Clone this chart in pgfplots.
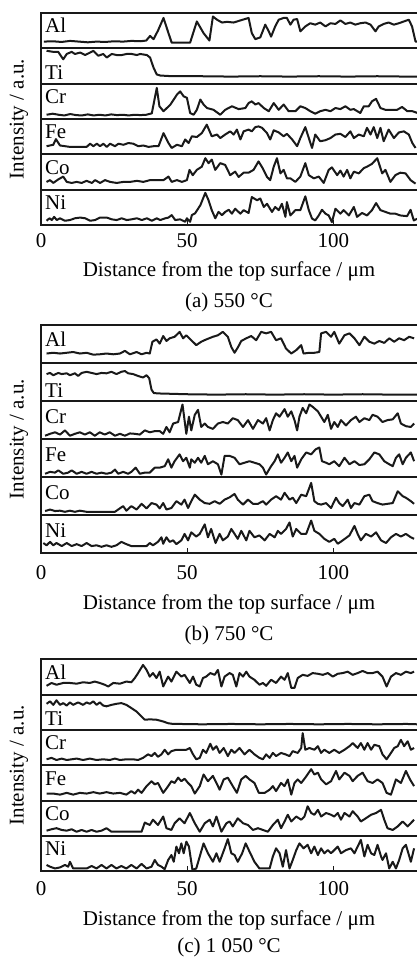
\documentclass[border=0pt]{standalone}
\usepackage{pgfplots}
\pgfplotsset{compat=1.18}
\usepackage{fontspec}
\setmainfont{Liberation Serif}
\newcommand\bigf{\fontsize{21}{25}\selectfont}
\pgfplotsset{
  panel/.style={scale only axis, width=376pt, xmin=0, xmax=128.6, ymin=0, ymax=6,
    ytick=\empty, xtick={0,50,100}, tick align=inside, xtick pos=bottom,
    major tick length=5pt, tick style={line width=1.2pt, black!90},
    axis line style={draw=none}, clip mode=individual,
    /pgf/number format/assume math mode=true,
    ticklabel style={font=\bigf}, label style={font=\bigf},
    ylabel={Intensity / a.u.},
    ylabel style={at={(axis description cs:-0.0585,0.5)}, anchor=center},
    xlabel={Distance from the top surface / μm},
    anchor=north west},
  trace/.style={black!90, line width=2pt, line join=round, mark=none},
}
\tikzset{frame/.style={black!90, line width=1.8pt},
  lab/.style={font=\bigf, inner sep=0pt, anchor=base west}}
\newcommand\frames{%
  \draw[frame] (axis cs:128.6,6) -- (axis cs:0,6) -- (axis cs:0,0) -- (axis cs:128.6,0);
  \draw[frame] (axis cs:0,1) -- (axis cs:128.6,1);
  \draw[frame] (axis cs:0,2) -- (axis cs:128.6,2);
  \draw[frame] (axis cs:0,3) -- (axis cs:128.6,3);
  \draw[frame] (axis cs:0,4) -- (axis cs:128.6,4);
  \draw[frame] (axis cs:0,5) -- (axis cs:128.6,5);}
\newcommand\striplabels[1]{%
  \node[lab, xshift=4pt, yshift=-#1] at (axis cs:0,6) {Al};
  \node[lab, xshift=4pt, yshift=4pt] at (axis cs:0,4) {Ti};
  \node[lab, xshift=4pt, yshift=-#1] at (axis cs:0,4) {Cr};
  \node[lab, xshift=4pt, yshift=-#1] at (axis cs:0,3) {Fe};
  \node[lab, xshift=4pt, yshift=-#1] at (axis cs:0,2) {Co};
  \node[lab, xshift=4pt, yshift=-#1] at (axis cs:0,1) {Ni};}
\begin{document}
\begin{tikzpicture}
\useasboundingbox (0,0) rectangle (417pt,958pt);
% ---------------- (a) 550 C
\begin{axis}[panel, at={(41pt,945pt)}, height=212pt,
  xticklabel style={anchor=base, yshift=-23pt},
  xlabel style={at={(axis description cs:0.5,0)}, anchor=base, yshift=-52pt}]
\addplot[trace] table[row sep=\\, y expr=\thisrow{f}+5] {x f\\
1 .19\\ 4 .2\\ 7 .18\\ 10 .21\\ 13 .19\\ 16 .17\\ 19 .19\\ 22 .18\\ 25 .2\\ 28 .19\\ 31 .21\\ 34 .2\\ 36 .22\\ 37.3 .35\\ 38.5 .26\\ 40 .5\\ 41.9 .86\\ 43.6 .43\\ 44.7 .16\\ 48 .16\\ 51 .16\\ 53.3 .76\\ 55.6 .43\\ 57.6 .22\\ 58.8 .9\\ 60.2 .81\\ 61.9 .73\\ 63.6 .75\\ 65.9 .73\\ 68.2 .79\\ 71 .86\\ 72.1 .43\\ 73.3 .26\\ 75 .31\\ 76.7 .67\\ 77.9 .48\\ 78.7 .33\\ 80.1 .62\\ 81.3 .81\\ 83 .86\\ 84.1 .86\\ 85.3 .67\\ 86.4 .81\\ 87.6 .83\\ 88.7 .48\\ 90.4 .62\\ 92.1 .71\\ 93.8 .67\\ 95.5 .73\\ 97.3 .62\\ 99 .71\\ 100.7 .69\\ 102.4 .79\\ 104.1 .69\\ 105.8 .73\\ 107.5 .67\\ 109.2 .71\\ 111 .73\\ 112.7 .67\\ 114.4 .48\\ 115.5 .62\\ 117.2 .69\\ 118.9 .73\\ 120.7 .67\\ 122.4 .71\\ 124.1 .76\\ 125.8 .81\\ 126.9 .62\\ 128.1 .19\\ 129 .19\\
};
\addplot[trace] table[row sep=\\, y expr=\thisrow{f}+4] {x f\\
1.9 .93\\ 4.2 .9\\ 5.9 .9\\ 7.6 .69\\ 8.8 .84\\ 10.5 .9\\ 11.6 .84\\ 13.4 .88\\ 15.1 .81\\ 16.8 .88\\ 17.9 .93\\ 19.6 .79\\ 21.3 .84\\ 22.5 .74\\ 24.2 .84\\ 25.9 .81\\ 27.6 .81\\ 29.3 .84\\ 31 .84\\ 32.8 .81\\ 33.9 .84\\ 36.2 .81\\ 37.3 .74\\ 38.5 .45\\ 39.6 .26\\ 40.8 .23\\ 45 .21\\ 55 .21\\ 65 .2\\ 75 .21\\ 85 .2\\ 95 .21\\ 105 .2\\ 115 .21\\ 125 .2\\ 129 .2\\
};
\addplot[trace] table[row sep=\\, y expr=\thisrow{f}+3] {x f\\
1.9 .12\\ 4 .15\\ 6 .12\\ 8 .1\\ 10 .14\\ 12 .11\\ 14 .1\\ 16 .13\\ 18 .1\\ 20 .12\\ 22 .1\\ 24 .13\\ 26 .11\\ 28 .12\\ 30 .1\\ 32 .12\\ 34 .11\\ 36 .12\\ 37.9 .16\\ 39.6 .88\\ 40.5 .36\\ 41.9 .22\\ 44.2 .4\\ 46.5 .69\\ 47.6 .78\\ 48.8 .64\\ 49.9 .6\\ 51 .17\\ 52.2 .12\\ 53.3 .26\\ 54.5 .55\\ 55.6 .41\\ 56.8 .31\\ 59 .26\\ 61.3 .12\\ 63 .26\\ 65.3 .36\\ 67.6 .28\\ 69.9 .31\\ 71 .45\\ 72.1 .5\\ 73.3 .41\\ 74.4 .45\\ 76.2 .31\\ 77.9 .22\\ 79.6 .45\\ 81.3 .26\\ 83 .41\\ 84.7 .22\\ 87 .22\\ 88.7 .36\\ 90.4 .31\\ 92.1 .22\\ 93.8 .15\\ 95.5 .22\\ 97.3 .26\\ 99 .22\\ 100.7 .31\\ 102.4 .28\\ 104.1 .36\\ 105.8 .26\\ 107 .28\\ 109.2 .17\\ 110.4 .36\\ 112.1 .36\\ 113.2 .5\\ 114.6 .57\\ 116.1 .31\\ 117.8 .26\\ 120.1 .26\\ 121.8 .26\\ 123.5 .34\\ 125.3 .22\\ 127 .22\\ 128.8 .17\\
};
\addplot[trace] table[row sep=\\, y expr=\thisrow{f}+2] {x f\\
1.9 .23\\ 4.2 .27\\ 5.1 .43\\ 6.5 .25\\ 8.2 .23\\ 9.9 .21\\ 13.4 .21\\ 15.6 .21\\ 16.8 .3\\ 17.9 .23\\ 19.1 .3\\ 20.2 .23\\ 21.3 .3\\ 22.5 .21\\ 23.6 .3\\ 25.3 .23\\ 26.5 .3\\ 28.2 .27\\ 29.9 .32\\ 31.6 .3\\ 33.3 .23\\ 35 .25\\ 36.8 .21\\ 38.5 .23\\ 40.2 .23\\ 41.9 .6\\ 43.6 .32\\ 44.7 .18\\ 46.5 .27\\ 48.2 .23\\ 49.3 .42\\ 50.5 .32\\ 51.6 .51\\ 53.3 .49\\ 55 .6\\ 56.7 .84\\ 58.4 .51\\ 60.2 .56\\ 61.3 .46\\ 63 .56\\ 64.7 .65\\ 65.9 .56\\ 67 .7\\ 68.2 .42\\ 69.3 .65\\ 71 .7\\ 72.1 .65\\ 73.3 .77\\ 74.4 .79\\ 75.6 .75\\ 77.3 .6\\ 78.4 .42\\ 79.6 .68\\ 81.3 .62\\ 83 .51\\ 84.1 .58\\ 85.9 .42\\ 87.6 .23\\ 88.7 .46\\ 90.4 .77\\ 91.6 .46\\ 92.7 .18\\ 93.8 .56\\ 95.5 .37\\ 97.3 .4\\ 99 .46\\ 100.7 .56\\ 102.4 .58\\ 104.1 .49\\ 105.8 .65\\ 107 .46\\ 108.7 .56\\ 110.4 .51\\ 111.5 .75\\ 112.7 .56\\ 113.8 .77\\ 115 .46\\ 116.1 .75\\ 117.2 .37\\ 118.9 .7\\ 120.7 .46\\ 122.4 .62\\ 124.1 .65\\ 125.8 .56\\ 127 .32\\ 128.1 .18\\
};
\addplot[trace] table[row sep=\\, y expr=\thisrow{f}+1] {x f\\
1.9 .22\\ 3.1 .27\\ 4.2 .19\\ 5.9 .29\\ 7.6 .37\\ 8.8 .22\\ 10.5 .19\\ 12.2 .22\\ 13.9 .19\\ 15.6 .25\\ 17.4 .19\\ 18.5 .27\\ 20.2 .19\\ 21.9 .27\\ 23.6 .22\\ 25.9 .19\\ 28.2 .22\\ 30.5 .22\\ 32.8 .25\\ 35 .22\\ 37.3 .27\\ 39.6 .27\\ 41.9 .27\\ 43.6 .37\\ 44.7 .22\\ 46.5 .27\\ 48.2 .22\\ 49.9 .27\\ 50.8 .56\\ 51.9 .41\\ 53.3 .56\\ 55 .65\\ 56.2 .89\\ 57.3 .75\\ 58.4 .85\\ 59.6 .56\\ 61.3 .75\\ 63 .7\\ 64.7 .41\\ 66.4 .51\\ 67.6 .36\\ 69.3 .48\\ 71 .48\\ 72.7 .56\\ 74.4 .8\\ 75.8 .61\\ 77.3 .36\\ 78.4 .27\\ 79.6 .65\\ 80.7 .89\\ 81.9 .46\\ 83 .56\\ 84.1 .32\\ 85.3 .32\\ 87 .22\\ 88.7 .37\\ 90.4 .75\\ 91.6 .41\\ 93.3 .32\\ 95 .37\\ 96.7 .19\\ 98.4 .56\\ 99.5 .63\\ 101.3 .41\\ 102.4 .54\\ 103.5 .37\\ 104.7 .56\\ 105.8 .32\\ 107 .51\\ 108.7 .46\\ 110.4 .61\\ 111.5 .65\\ 113.2 .73\\ 115 .89\\ 116.7 .46\\ 117.8 .56\\ 119.5 .22\\ 121.2 .41\\ 122.9 .48\\ 124.7 .46\\ 126.4 .27\\ 128.1 .17\\
};
\addplot[trace] table[row sep=\\, y expr=\thisrow{f}] {x f\\
1.9 .12\\ 2.9 .19\\ 3.7 .14\\ 4.5 .23\\ 5.4 .14\\ 6.5 .19\\ 8.2 .12\\ 9.9 .14\\ 11.6 .19\\ 13.4 .21\\ 15.1 .19\\ 16.8 .12\\ 18.5 .14\\ 20.2 .21\\ 22.5 .21\\ 24.2 .16\\ 25.9 .14\\ 27.6 .19\\ 29.3 .14\\ 31 .16\\ 32.8 .19\\ 34.5 .14\\ 36.2 .19\\ 37.9 .12\\ 39.6 .19\\ 40.8 .14\\ 42.5 .19\\ 43.6 .21\\ 44.7 .28\\ 45.9 .14\\ 47.6 .16\\ 49.3 .09\\ 49.9 .19\\ 51 .09\\ 51.6 .28\\ 52.7 .33\\ 54.5 .56\\ 56.2 .91\\ 57.3 .7\\ 58.4 .42\\ 59.6 .19\\ 60.7 .37\\ 61.9 .28\\ 63 .37\\ 64.2 .43\\ 65.3 .32\\ 66.4 .46\\ 68.2 .32\\ 69.3 .42\\ 71 .34\\ 72.1 .79\\ 73.9 .7\\ 75 .75\\ 76.2 .51\\ 77.3 .6\\ 79 .37\\ 80.1 .51\\ 81.3 .42\\ 82.4 .6\\ 83.6 .23\\ 84.1 .65\\ 85.3 .27\\ 87 .42\\ 88.7 .42\\ 90.4 .81\\ 91.6 .42\\ 92.7 .18\\ 93.8 .13\\ 95 .27\\ 96.1 .43\\ 97.3 .32\\ 98.4 .27\\ 99.5 .08\\ 100.7 .46\\ 102.4 .32\\ 103.5 .42\\ 105.3 .27\\ 107 .51\\ 108.1 .23\\ 109.8 .34\\ 111.5 .27\\ 113.2 .42\\ 114.6 .62\\ 116.1 .42\\ 117.8 .37\\ 119.5 .32\\ 121.2 .32\\ 122.9 .27\\ 125.2 .25\\ 126.4 .43\\ 127.5 .13\\ 128.8 .18\\
};
\frames
\striplabels{20pt}
\node[font=\bigf, anchor=base] at (axis description cs:0.5,0) [yshift=-83pt] {(a) 550 °C};
\end{axis}
% ---------------- (b) 750 C
\begin{axis}[panel, at={(41pt,633pt)}, height=228.3pt,
  xticklabel style={anchor=base, yshift=-26pt},
  xlabel style={at={(axis description cs:0.5,0)}, anchor=base, yshift=-56pt}]
\addplot[trace] table[row sep=\\, y expr=\thisrow{f}+5] {x f\\
1.9 .25\\ 4.2 .27\\ 6.5 .25\\ 8.8 .27\\ 11 .29\\ 13.3 .25\\ 15.6 .27\\ 17.9 .22\\ 20.1 .23\\ 22.4 .25\\ 24.7 .23\\ 27 .25\\ 28.7 .32\\ 30.4 .23\\ 32.7 .29\\ 34.4 .23\\ 36.1 .27\\ 37.2 .25\\ 38.1 .56\\ 39.5 .62\\ 40.6 .51\\ 41.8 .71\\ 42.9 .58\\ 44 .65\\ 45.7 .69\\ 47.4 .82\\ 48.6 .65\\ 49.7 .73\\ 51.4 .6\\ 53.1 .47\\ 54.8 .56\\ 56.5 .62\\ 58.8 .69\\ 60.5 .73\\ 62.2 .82\\ 63.9 .69\\ 65.1 .42\\ 66.2 .27\\ 67.4 .42\\ 68.5 .58\\ 70.2 .65\\ 71.9 .71\\ 73.6 .6\\ 75.3 .82\\ 77 .78\\ 78.7 .82\\ 80.4 .6\\ 82.1 .65\\ 83.8 .38\\ 85.6 .25\\ 87.3 .34\\ 89 .47\\ 89.8 .25\\ 91.8 .27\\ 93.5 .27\\ 95.2 .29\\ 95.8 .78\\ 97.5 .82\\ 99.2 .69\\ 100.3 .82\\ 102 .51\\ 103.8 .73\\ 105.5 .78\\ 107.2 .65\\ 108.9 .47\\ 110.6 .69\\ 112.3 .56\\ 114 .51\\ 115.7 .58\\ 117.4 .53\\ 119.1 .65\\ 120.8 .56\\ 122.5 .65\\ 124.2 .6\\ 125.9 .69\\ 127.6 .65\\
};
\addplot[trace] table[row sep=\\, y expr=\thisrow{f}+4] {x f\\
1.9 .71\\ 3.1 .74\\ 4.2 .68\\ 5.9 .74\\ 7.1 .71\\ 8.8 .73\\ 9.9 .68\\ 11.6 .73\\ 12.7 .66\\ 13.9 .74\\ 15.6 .77\\ 17.3 .74\\ 19 .71\\ 20.7 .74\\ 22.4 .73\\ 24.1 .77\\ 25.8 .71\\ 27.5 .77\\ 28.7 .79\\ 29.8 .73\\ 31.5 .71\\ 33.2 .66\\ 34.9 .62\\ 36.1 .68\\ 37 .6\\ 37.8 .3\\ 38.6 .21\\ 40.6 .2\\ 50 .18\\ 60 .17\\ 70 .18\\ 80 .17\\ 90 .18\\ 100 .17\\ 110 .18\\ 120 .17\\ 129 .17\\
};
\addplot[trace] table[row sep=\\, y expr=\thisrow{f}+3] {x f\\
1.4 .09\\ 3.1 .14\\ 4.8 .18\\ 6.5 .12\\ 8.2 .23\\ 9.9 .09\\ 11.6 .14\\ 13.3 .18\\ 15 .12\\ 16.7 .18\\ 18.4 .09\\ 20.1 .18\\ 21.8 .12\\ 23.5 .18\\ 25.3 .09\\ 27 .14\\ 28.7 .09\\ 30.4 .15\\ 32.1 .14\\ 33.8 .12\\ 35.5 .23\\ 37.2 .18\\ 38.9 .21\\ 40.6 .21\\ 41.8 .14\\ 42.9 .32\\ 44 .18\\ 45.2 .41\\ 46.9 .45\\ 48.4 .91\\ 49.7 .14\\ 50.6 .59\\ 51.4 .23\\ 52.6 .64\\ 53.7 .77\\ 54.8 .32\\ 56 .41\\ 57.1 .32\\ 58.8 .27\\ 60.5 .41\\ 62.2 .45\\ 63.9 .41\\ 65.6 .55\\ 67.3 .5\\ 69.1 .32\\ 70.8 .5\\ 72.5 .27\\ 74.2 .5\\ 75.9 .41\\ 77 .55\\ 78.2 .23\\ 79.3 .5\\ 80.4 .68\\ 81.6 .59\\ 83.3 .79\\ 84.4 .59\\ 85.6 .73\\ 86.7 .5\\ 87.6 .23\\ 88.4 .59\\ 89.5 .82\\ 90.7 .68\\ 91.8 .91\\ 92.9 .85\\ 94.7 .73\\ 95.8 .59\\ 96.9 .45\\ 98.1 .64\\ 99.2 .27\\ 100.3 .45\\ 101.5 .32\\ 102.6 .5\\ 104.3 .36\\ 106 .5\\ 107.7 .59\\ 108.9 .45\\ 110.6 .55\\ 112.3 .5\\ 113.4 .64\\ 115.1 .59\\ 116.8 .45\\ 118.5 .5\\ 120.3 .52\\ 122 .68\\ 123.1 .41\\ 124.8 .34\\ 126.5 .32\\ 127.6 .41\\
};
\addplot[trace] table[row sep=\\, y expr=\thisrow{f}+2] {x f\\
1.4 .09\\ 3.1 .14\\ 4.8 .12\\ 5.9 .18\\ 7.6 .09\\ 9.3 .12\\ 10.5 .18\\ 12.2 .09\\ 13.9 .14\\ 15.6 .09\\ 17.3 .14\\ 19 .09\\ 20.7 .12\\ 22.4 .09\\ 24.1 .12\\ 25.3 .2\\ 26.4 .09\\ 28.1 .14\\ 29.8 .09\\ 30.9 .14\\ 32.4 .25\\ 33.8 .09\\ 35.5 .12\\ 37.2 .12\\ 38.9 .25\\ 40.6 .25\\ 42.3 .29\\ 43.5 .47\\ 44.6 .25\\ 45.7 .42\\ 47.4 .6\\ 48.6 .42\\ 49.7 .51\\ 50.9 .25\\ 51.4 .47\\ 52.6 .38\\ 53.7 .51\\ 54.8 .38\\ 56 .56\\ 57.1 .34\\ 58.8 .42\\ 60.5 .34\\ 61.7 .07\\ 62.8 .56\\ 64.5 .56\\ 66.2 .51\\ 67.9 .34\\ 69.6 .38\\ 71.3 .42\\ 73 .38\\ 74.7 .34\\ 75.9 .25\\ 77 .07\\ 78.7 .29\\ 79.9 .42\\ 81 .6\\ 82.1 .38\\ 83.3 .51\\ 84.4 .65\\ 85.6 .42\\ 86.7 .56\\ 87.6 .25\\ 89 .47\\ 90.7 .65\\ 92.4 .6\\ 93.9 .73\\ 95.2 .78\\ 96.1 .42\\ 97.5 .38\\ 98.6 .34\\ 100.3 .42\\ 102 .29\\ 103.8 .51\\ 105.5 .34\\ 107.2 .42\\ 108.9 .32\\ 110.6 .34\\ 112.3 .47\\ 114 .65\\ 115.7 .6\\ 117.4 .42\\ 119.1 .34\\ 120.3 .29\\ 121.4 .51\\ 122.5 .6\\ 123.7 .34\\ 124.8 .51\\ 126.5 .65\\ 127.6 .42\\
};
\addplot[trace] table[row sep=\\, y expr=\thisrow{f}+1] {x f\\
1.4 .11\\ 3.1 .15\\ 4.8 .11\\ 6.5 .12\\ 8.2 .09\\ 9.9 .12\\ 11.6 .09\\ 13.3 .12\\ 15.6 .09\\ 17.9 .09\\ 20.1 .09\\ 22.4 .09\\ 25.3 .09\\ 26.4 .15\\ 28.1 .24\\ 29.2 .12\\ 30.9 .24\\ 32.7 .15\\ 34.4 .3\\ 36.1 .18\\ 37.8 .32\\ 39.5 .28\\ 40.6 .18\\ 41.8 .32\\ 42.9 .15\\ 44.6 .19\\ 46.3 .37\\ 48 .28\\ 49.1 .41\\ 50.3 .19\\ 51.4 .37\\ 52.6 .54\\ 54.3 .41\\ 56 .32\\ 57.7 .3\\ 59.4 .37\\ 61.1 .3\\ 62.8 .41\\ 64.5 .47\\ 66.2 .56\\ 67.3 .41\\ 69.1 .28\\ 70.8 .41\\ 72.5 .3\\ 74.2 .3\\ 75.9 .37\\ 77 .28\\ 78.7 .41\\ 80.4 .5\\ 82.1 .41\\ 83.3 .59\\ 85 .41\\ 86.1 .46\\ 87.3 .32\\ 89 .54\\ 90.7 .5\\ 92.4 .85\\ 93.5 .37\\ 94.7 .3\\ 95.8 .28\\ 97.5 .32\\ 99.2 .19\\ 100.9 .46\\ 102 .32\\ 103.2 .24\\ 104.9 .41\\ 106 .19\\ 107.2 .32\\ 108.9 .28\\ 110.6 .5\\ 112.3 .54\\ 113.4 .37\\ 115.1 .32\\ 116.8 .28\\ 118.5 .3\\ 120.3 .32\\ 122 .63\\ 123.7 .5\\ 124.8 .46\\ 126.5 .37\\ 127.6 .3\\
};
\addplot[trace] table[row sep=\\, y expr=\thisrow{f}] {x f\\
0.8 .27\\ 1.9 .21\\ 3.1 .3\\ 4.2 .21\\ 5.3 .27\\ 7.1 .19\\ 8.8 .27\\ 10.5 .19\\ 12.2 .24\\ 13.9 .19\\ 15.6 .27\\ 17.3 .19\\ 19 .21\\ 20.7 .17\\ 22.4 .21\\ 24.1 .17\\ 25.8 .21\\ 27.5 .3\\ 29.2 .24\\ 30.9 .19\\ 32.7 .19\\ 34.4 .19\\ 36.1 .19\\ 37.2 .27\\ 38.3 .21\\ 40 .3\\ 41.2 .42\\ 41.8 .25\\ 42.9 .42\\ 44 .3\\ 45.2 .34\\ 46.3 .24\\ 48 .34\\ 49.1 .51\\ 50.3 .34\\ 51.4 .55\\ 53.1 .44\\ 54.3 .51\\ 56 .76\\ 57.1 .42\\ 58.2 .64\\ 59.7 .27\\ 61.1 .51\\ 62.2 .34\\ 63.9 .44\\ 65.1 .64\\ 66.2 .51\\ 67.3 .38\\ 68.5 .59\\ 70.2 .34\\ 71.3 .59\\ 73 .42\\ 74.7 .47\\ 76.5 .34\\ 78.2 .51\\ 79.9 .42\\ 81 .59\\ 82.1 .51\\ 83.8 .64\\ 85 .81\\ 86.1 .44\\ 87.3 .64\\ 89 .51\\ 90.7 .51\\ 92.4 .86\\ 93.5 .59\\ 95.2 .51\\ 96.9 .38\\ 98.6 .3\\ 100.3 .38\\ 101.5 .25\\ 103.2 .34\\ 105.5 .47\\ 107.2 .72\\ 108.3 .51\\ 109.4 .34\\ 111.1 .51\\ 112.9 .44\\ 114.6 .55\\ 116.3 .34\\ 118 .27\\ 119.7 .42\\ 121.4 .51\\ 123.1 .44\\ 124.8 .51\\ 126.5 .42\\ 127.6 .38\\
};
\frames
\striplabels{22pt}
\node[font=\bigf, anchor=base] at (axis description cs:0.5,0) [yshift=-87pt] {(b) 750 °C};
\end{axis}
% ---------------- (c) 1050 C
\begin{axis}[panel, at={(41pt,298.7pt)}, height=212pt,
  xticklabel style={anchor=base, yshift=-24.7pt},
  xlabel style={at={(axis description cs:0.5,0)}, anchor=base, yshift=-54.7pt}]
\addplot[trace] table[row sep=\\, y expr=\thisrow{f}+5] {x f\\
1.9 .25\\ 3.6 .33\\ 5.3 .28\\ 7.6 .33\\ 9.9 .33\\ 12.2 .31\\ 14.4 .35\\ 16.7 .33\\ 18.4 .37\\ 20.1 .33\\ 21.8 .28\\ 23 .23\\ 24.7 .33\\ 27 .31\\ 29.2 .37\\ 30.9 .35\\ 32.1 .47\\ 33.2 .61\\ 34.9 .84\\ 36.1 .7\\ 37.2 .51\\ 38.3 .61\\ 39.5 .47\\ 40.6 .65\\ 41.8 .23\\ 43.5 .51\\ 44.6 .37\\ 46.3 .65\\ 48 .51\\ 49.1 .56\\ 50.9 .33\\ 52 .51\\ 53.1 .28\\ 54.3 .23\\ 55.4 .47\\ 56.5 .51\\ 57.9 .61\\ 59.4 .56\\ 60.5 .7\\ 61.7 .23\\ 62.8 .51\\ 64.5 .61\\ 65.6 .56\\ 66.8 .23\\ 67.9 .61\\ 69.1 .51\\ 70.2 .65\\ 71.3 .51\\ 73 .42\\ 74.7 .28\\ 75.9 .33\\ 77 .25\\ 78.7 .42\\ 80.4 .33\\ 82.1 .51\\ 83.3 .42\\ 84.4 .61\\ 85.6 .19\\ 86.7 .19\\ 87.8 .47\\ 89.5 .56\\ 91.2 .53\\ 92.9 .61\\ 94.7 .59\\ 96.4 .56\\ 98.1 .61\\ 99.8 .51\\ 101.5 .59\\ 103.2 .61\\ 104.9 .65\\ 106.6 .56\\ 108.3 .61\\ 110 .67\\ 111.7 .61\\ 113.4 .61\\ 115.1 .65\\ 116.8 .51\\ 118.2 .23\\ 119.7 .51\\ 121.4 .61\\ 123.1 .56\\ 124.8 .65\\ 126.5 .61\\ 127.6 .65\\
};
\addplot[trace] table[row sep=\\, y expr=\thisrow{f}+4] {x f\\
1.9 .74\\ 3.1 .81\\ 4.2 .71\\ 5.3 .84\\ 6.5 .71\\ 7.6 .76\\ 8.8 .69\\ 9.9 .78\\ 11 .71\\ 12.7 .78\\ 14.4 .71\\ 15.6 .78\\ 16.7 .74\\ 17.9 .81\\ 19 .71\\ 20.1 .78\\ 21.3 .69\\ 22.4 .67\\ 24.1 .71\\ 25.8 .74\\ 27.5 .76\\ 29.2 .71\\ 30.9 .62\\ 32.7 .52\\ 34.4 .38\\ 35.5 .29\\ 37.2 .3\\ 39.5 .29\\ 41.8 .24\\ 43.5 .19\\ 45.2 .17\\ 47.4 .17\\ 55 .16\\ 65 .17\\ 75 .16\\ 85 .17\\ 95 .16\\ 105 .17\\ 115 .16\\ 125 .17\\ 129 .16\\
};
\addplot[trace] table[row sep=\\, y expr=\thisrow{f}+3] {x f\\
1.9 .17\\ 3.6 .21\\ 5.3 .15\\ 7.1 .19\\ 8.8 .15\\ 10.5 .17\\ 12.2 .19\\ 14.4 .15\\ 16.7 .19\\ 19 .15\\ 21.3 .17\\ 23.5 .15\\ 25.3 .19\\ 27 .15\\ 29.2 .17\\ 31.5 .17\\ 33.2 .15\\ 34.9 .21\\ 36.6 .31\\ 37.8 .26\\ 38.9 .35\\ 40 .24\\ 41.2 .31\\ 42.3 .44\\ 43.5 .31\\ 44.6 .4\\ 46.3 .44\\ 48 .44\\ 49.7 .44\\ 50.9 .49\\ 52 .31\\ 53.1 .17\\ 54.3 .21\\ 55.4 .44\\ 56.5 .35\\ 57.9 .61\\ 58.8 .44\\ 60 .54\\ 61.1 .35\\ 62.5 .49\\ 63.9 .26\\ 65.1 .44\\ 66.2 .35\\ 67.9 .49\\ 69.6 .31\\ 71.3 .44\\ 73 .31\\ 74.7 .21\\ 75.9 .17\\ 77 .31\\ 78.2 .21\\ 79.3 .35\\ 80.4 .26\\ 82.1 .35\\ 83.6 .31\\ 85 .26\\ 86.1 .4\\ 87.8 .35\\ 89 .49\\ 89.5 .91\\ 90.4 .44\\ 91.8 .49\\ 93.5 .44\\ 94.7 .54\\ 95.8 .35\\ 96.9 .44\\ 98.6 .35\\ 100.3 .44\\ 102 .35\\ 103.8 .44\\ 105.5 .54\\ 106.6 .63\\ 108.3 .49\\ 109.4 .63\\ 110.6 .44\\ 111.7 .63\\ 112.9 .44\\ 114 .58\\ 115.7 .54\\ 116.8 .31\\ 118.2 .17\\ 119.7 .35\\ 120.8 .49\\ 122 .54\\ 123.1 .72\\ 124.2 .54\\ 125.4 .68\\ 126.5 .44\\ 127.6 .49\\
};
\addplot[trace] table[row sep=\\, y expr=\thisrow{f}+2] {x f\\
1.9 .2\\ 4.2 .2\\ 6.5 .17\\ 8.8 .22\\ 11 .17\\ 13.3 .22\\ 15.6 .2\\ 17.9 .24\\ 20.1 .2\\ 22.4 .24\\ 24.7 .2\\ 27 .22\\ 29.2 .17\\ 30.9 .27\\ 32.1 .2\\ 33.2 .31\\ 34.4 .22\\ 36.1 .41\\ 37.8 .55\\ 38.9 .46\\ 40 .5\\ 41.8 .22\\ 43.5 .41\\ 44.6 .55\\ 45.7 .5\\ 46.9 .65\\ 48 .55\\ 49.1 .62\\ 50.3 .5\\ 51.4 .41\\ 52.6 .2\\ 54.3 .41\\ 55.6 .74\\ 57.1 .55\\ 58.8 .7\\ 60 .5\\ 61.1 .31\\ 62.5 .6\\ 63.9 .65\\ 65.6 .41\\ 67 .22\\ 68.5 .6\\ 70 .7\\ 71.3 .6\\ 73 .5\\ 74.5 .22\\ 76.5 .22\\ 78.2 .31\\ 79.3 .41\\ 80.4 .27\\ 82.1 .5\\ 83.3 .41\\ 84.4 .6\\ 85.6 .17\\ 86.7 .5\\ 87.8 .6\\ 89 .5\\ 90.4 .65\\ 92.4 .89\\ 93.5 .74\\ 94.7 .79\\ 95.8 .6\\ 97.5 .46\\ 99.2 .55\\ 100.9 .84\\ 102 .6\\ 103.8 .79\\ 105.5 .7\\ 106.6 .55\\ 108.3 .7\\ 110 .79\\ 111.7 .55\\ 113.4 .5\\ 115.1 .6\\ 116.8 .5\\ 118.2 .22\\ 119.7 .17\\ 121.4 .6\\ 123.1 .5\\ 124.8 .84\\ 126.2 .6\\ 127.6 .41\\
};
\addplot[trace] table[row sep=\\, y expr=\thisrow{f}+1] {x f\\
1.9 .15\\ 3.6 .19\\ 5.3 .22\\ 7.1 .17\\ 8.8 .15\\ 10.5 .19\\ 12.2 .12\\ 13.9 .17\\ 15.6 .12\\ 17.3 .17\\ 19 .12\\ 20.7 .15\\ 22.4 .22\\ 24.1 .12\\ 25.8 .12\\ 28.1 .12\\ 30.4 .12\\ 32.7 .12\\ 34.4 .12\\ 35.5 .38\\ 37.2 .31\\ 38.3 .46\\ 40 .31\\ 41.8 .55\\ 42.9 .22\\ 44.6 .17\\ 45.7 .36\\ 47.4 .5\\ 49.1 .36\\ 50.9 .65\\ 52.6 .36\\ 54.3 .12\\ 56 .36\\ 57.7 .46\\ 58.8 .27\\ 60 .55\\ 61.7 .12\\ 63.4 .36\\ 64.5 .41\\ 65.6 .27\\ 67.3 .5\\ 69.1 .36\\ 70.8 .31\\ 72.5 .17\\ 74.2 .22\\ 75.9 .17\\ 77.6 .12\\ 79.3 .31\\ 81 .46\\ 82.1 .22\\ 83.3 .41\\ 84.4 .6\\ 85.6 .41\\ 87.3 .55\\ 89 .46\\ 90.1 .55\\ 91.2 .84\\ 92.4 .65\\ 93.5 .6\\ 94.7 .74\\ 95.8 .55\\ 97.5 .65\\ 99.2 .6\\ 100.3 .55\\ 101.5 .65\\ 102.6 .46\\ 103.8 .65\\ 105.5 .55\\ 106.6 .7\\ 108.3 .55\\ 109.4 .41\\ 111.1 .5\\ 112.9 .6\\ 114.6 .65\\ 116.3 .74\\ 117.4 .46\\ 118.5 .22\\ 120.3 .17\\ 122 .27\\ 123.7 .41\\ 125.4 .27\\ 127.6 .46\\
};
\addplot[trace] table[row sep=\\, y expr=\thisrow{f}] {x f\\
1.9 .18\\ 3.1 .13\\ 4.8 .08\\ 6.5 .11\\ 8.2 .18\\ 9.3 .13\\ 9.9 .27\\ 11 .08\\ 13.3 .08\\ 15.6 .08\\ 17.3 .15\\ 19 .08\\ 20.7 .18\\ 22.4 .08\\ 24.1 .18\\ 25.8 .08\\ 27.5 .15\\ 29.2 .08\\ 30.9 .18\\ 32.7 .08\\ 34.4 .21\\ 36.1 .08\\ 37.8 .13\\ 38.9 .32\\ 40 .18\\ 41.2 .13\\ 42.3 .06\\ 43.5 .32\\ 44.6 .46\\ 45.4 .27\\ 46.3 .7\\ 47.2 .51\\ 48 .79\\ 48.8 .51\\ 49.7 .84\\ 50.6 .7\\ 51.8 .04\\ 53.1 .08\\ 54.3 .42\\ 55.6 .79\\ 57.1 .51\\ 58.8 .27\\ 60 .51\\ 61.1 .27\\ 62.8 .65\\ 63.9 .91\\ 65.1 .51\\ 66.2 .46\\ 67.3 .27\\ 68.8 .51\\ 70 .79\\ 71.3 .56\\ 73 .27\\ 74.7 .08\\ 76.5 .08\\ 78.2 .08\\ 79.3 .42\\ 80.4 .65\\ 81.6 .51\\ 82.7 .13\\ 83.8 .6\\ 85 .08\\ 86.1 .32\\ 87.3 .6\\ 88.4 .79\\ 89.8 .65\\ 91.2 .75\\ 92.4 .51\\ 93.5 .7\\ 94.7 .46\\ 95.8 .65\\ 96.9 .51\\ 98.1 .6\\ 99.2 .51\\ 100.3 .6\\ 101.5 .7\\ 102.6 .51\\ 104.3 .6\\ 106 .65\\ 107.2 .51\\ 108.3 .7\\ 109.4 .89\\ 110.6 .42\\ 111.7 .75\\ 112.9 .51\\ 114 .46\\ 115.1 .75\\ 116.3 .42\\ 116.8 .32\\ 118 .51\\ 119.1 .08\\ 120.3 .27\\ 121.4 .08\\ 122.5 .32\\ 123.7 .65\\ 124.8 .75\\ 126.5 .27\\ 127.6 .65\\
};
\frames
\striplabels{20pt}
\node[font=\bigf, anchor=base] at (axis description cs:0.5,0) [yshift=-81.5pt] {(c) 1 050 °C};
\end{axis}
\end{tikzpicture}
\end{document}
